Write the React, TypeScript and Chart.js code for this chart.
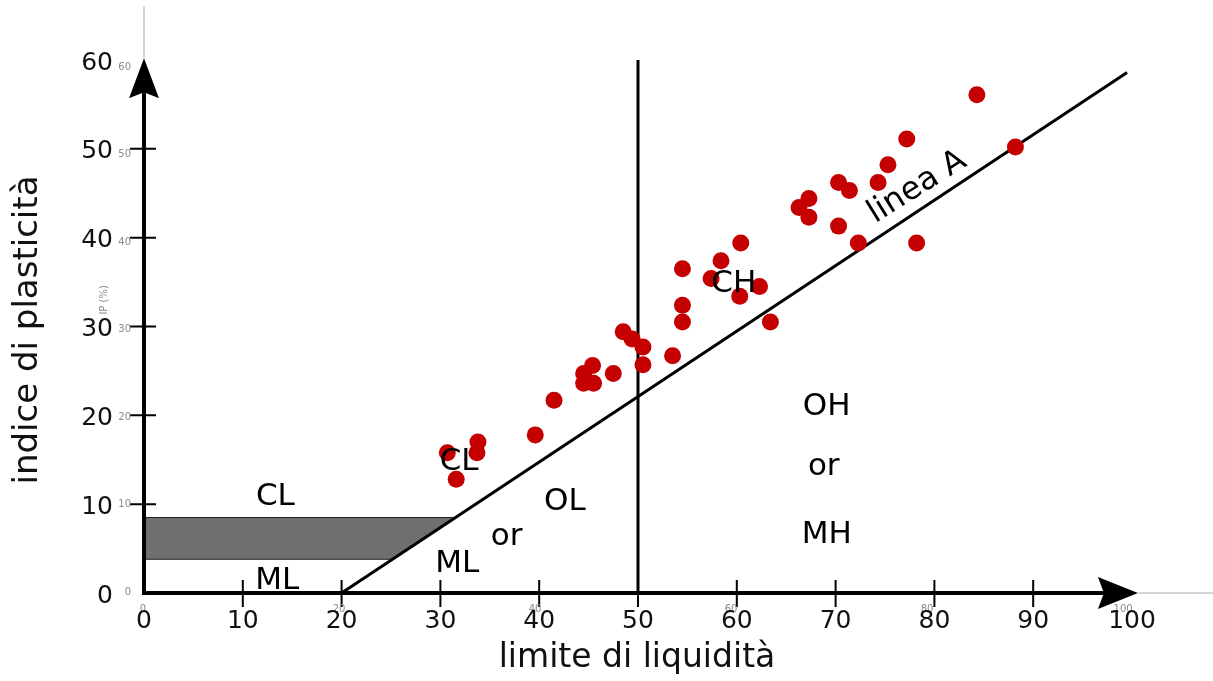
import React, { useEffect, useRef } from "react";
import { Chart, registerables } from "chart.js";

Chart.register(...registerables);

// ---- data ----
const liquidLimit = [30.7, 31.6, 33.7, 33.8, 39.6, 41.5, 44.5, 44.5, 45.4, 45.5, 47.5, 48.5, 49.4, 50.5, 50.5, 53.5, 54.5, 54.5, 54.5, 57.4, 58.4, 60.3, 60.4, 62.3, 63.4, 66.3, 67.3, 67.3, 70.3, 70.3, 71.4, 72.3, 74.3, 75.3, 77.2, 78.2, 84.3, 88.2];
const plasticityIndex = [15.8, 12.8, 15.8, 17.0, 17.8, 21.7, 24.7, 23.6, 25.6, 23.6, 24.7, 29.4, 28.6, 27.7, 25.7, 26.7, 30.5, 32.4, 36.5, 35.4, 37.4, 33.4, 39.4, 34.5, 30.5, 43.4, 44.4, 42.3, 46.2, 41.3, 45.3, 39.4, 46.2, 48.2, 51.1, 39.4, 56.1, 50.2];

const aLineLL = [20, 99.5];
const aLinePI = [0, 58.6];
const verticalLL = [50, 50];
const verticalPI = [0, 60];
const bandLL = [0, 31.6, 25.2, 0];
const bandPI = [8.5, 8.5, 3.8, 3.8];

const xTicks = [0, 10, 20, 30, 40, 50, 60, 70, 80, 90, 100];
const yTicks = [0, 10, 20, 30, 40, 50, 60];
const xTickMarks = [10, 20, 30, 40, 50, 60, 70, 80, 90];
const yTickMarks = [10, 20, 30, 40, 50];
const xGhostTicks = [0, 20, 40, 60, 80, 100];
const yGhostTicks = [0, 10, 20, 30, 40, 50, 60];

const regionText = ["CL", "ML", "CL", "ML", "OL", "or", "CH", "OH", "or", "MH"];
const regionLL = [13.3, 13.5, 31.9, 31.7, 42.6, 36.7, 59.7, 69.1, 68.8, 69.1];
const regionPI = [9.9, 0.45, 13.85, 2.36, 9.35, 5.4, 33.9, 20.05, 13.3, 5.63];

const aLineLabel = "linea A";
const aLineLabelLL = 78.7;
const aLineLabelPI = 44.9;

const xTitle = "limite di liquidità";
const yTitle = "indice di plasticità";
const yUnitText = "IP (%)";
const xAxisEnd = 100.6;
const yAxisEnd = 60.2;

const FONT = "'DejaVu Sans', 'Liberation Sans', sans-serif";

const decorPlugin = {
  id: "decor",
  afterDatasetsDraw(chart: any) {
    const { ctx, scales } = chart;
    const xs = scales.x;
    const ys = scales.y;
    const x0 = xs.getPixelForValue(0);
    const y0 = ys.getPixelForValue(0);
    const xEnd = xs.getPixelForValue(xAxisEnd);
    const yEnd = ys.getPixelForValue(yAxisEnd);
    ctx.save();

    // gray extensions
    ctx.strokeStyle = "#c8c8c8";
    ctx.lineWidth = 1.5;
    ctx.beginPath();
    ctx.moveTo(x0, 6);
    ctx.lineTo(x0, yEnd);
    ctx.moveTo(xEnd, y0);
    ctx.lineTo(chart.width, y0);
    ctx.stroke();

    // axes
    ctx.strokeStyle = "#000";
    ctx.lineWidth = 4;
    ctx.beginPath();
    ctx.moveTo(x0, y0 + 2);
    ctx.lineTo(x0, yEnd + 30);
    ctx.moveTo(x0 - 2, y0);
    ctx.lineTo(xEnd - 30, y0);
    ctx.stroke();

    // arrow heads
    ctx.fillStyle = "#000";
    ctx.beginPath();
    ctx.moveTo(x0, yEnd);
    ctx.lineTo(x0 - 15, yEnd + 40);
    ctx.lineTo(x0, yEnd + 34);
    ctx.lineTo(x0 + 15, yEnd + 40);
    ctx.closePath();
    ctx.fill();
    ctx.beginPath();
    ctx.moveTo(xEnd, y0);
    ctx.lineTo(xEnd - 40, y0 - 16);
    ctx.lineTo(xEnd - 34, y0);
    ctx.lineTo(xEnd - 40, y0 + 16);
    ctx.closePath();
    ctx.fill();

    // tick marks
    ctx.lineWidth = 2;
    ctx.beginPath();
    for (const v of yTickMarks) {
      const py = ys.getPixelForValue(v);
      ctx.moveTo(x0 - 14, py);
      ctx.lineTo(x0 + 12, py);
    }
    for (const v of xTickMarks) {
      const px = xs.getPixelForValue(v);
      ctx.moveTo(px, y0 - 13);
      ctx.lineTo(px, y0 + 14);
    }
    ctx.stroke();

    // ghost small labels
    ctx.fillStyle = "#8a8a8a";
    ctx.font = `10px ${FONT}`;
    ctx.textBaseline = "middle";
    ctx.textAlign = "right";
    for (const v of yGhostTicks) {
      ctx.fillText(String(v), x0 - 13, ys.getPixelForValue(v * 0.985) - 1);
    }
    ctx.textAlign = "center";
    for (const v of xGhostTicks) {
      ctx.fillText(String(v), xs.getPixelForValue(v * 0.992) - 1, y0 + 16);
    }
    ctx.save();
    ctx.translate(x0 - 40, ys.getPixelForValue(33));
    ctx.rotate(-Math.PI / 2);
    ctx.fillText(yUnitText, 0, 0);
    ctx.restore();

    // tick labels
    ctx.fillStyle = "#111";
    ctx.font = `25px ${FONT}`;
    ctx.textBaseline = "alphabetic";
    ctx.textAlign = "right";
    for (const v of yTicks) {
      ctx.fillText(String(v), x0 - 31, ys.getPixelForValue(v) + 9.5);
    }
    ctx.textAlign = "center";
    for (const v of xTicks) {
      ctx.fillText(String(v), xs.getPixelForValue(v), y0 + 35);
    }

    // axis titles
    ctx.font = `33px ${FONT}`;
    ctx.fillText(xTitle, (xs.getPixelForValue(0) + xs.getPixelForValue(100)) / 2 - 1, 667);
    ctx.save();
    ctx.translate(37, 330);
    ctx.rotate(-Math.PI / 2);
    ctx.font = `34px ${FONT}`;
    ctx.fillText(yTitle, 0, 0);
    ctx.restore();

    // region labels
    ctx.font = `31px ${FONT}`;
    ctx.fillStyle = "#000";
    regionText.forEach((t, i) => {
      ctx.fillText(t, xs.getPixelForValue(regionLL[i]), ys.getPixelForValue(regionPI[i]));
    });

    // linea A label
    ctx.save();
    ctx.translate(xs.getPixelForValue(aLineLabelLL), ys.getPixelForValue(aLineLabelPI));
    ctx.rotate(-32 * Math.PI / 180);
    ctx.font = `32px ${FONT}`;
    ctx.fillText(aLineLabel, 0, 0);
    ctx.restore();

    ctx.restore();
  },
};

export default function App() {
  const ref = useRef<HTMLCanvasElement | null>(null);
  useEffect(() => {
    if (!ref.current) return;
    const zip = (xsArr: number[], ysArr: number[]) => xsArr.map((x, i) => ({ x, y: ysArr[i] }));
    const chart = new Chart(ref.current, {
      type: "scatter",
      data: {
        datasets: [
          {
            label: "campioni",
            data: zip(liquidLimit, plasticityIndex),
            backgroundColor: "#c40000",
            borderColor: "#c40000",
            pointRadius: 8.5,
            pointBorderWidth: 0,
            order: 0,
          } as any,
          {
            label: "linea A",
            data: zip(aLineLL, aLinePI),
            showLine: true,
            borderColor: "#000",
            borderWidth: 3,
            pointRadius: 0,
            fill: false,
            order: 1,
          },
          {
            label: "LL 50",
            data: zip(verticalLL, verticalPI),
            showLine: true,
            borderColor: "#000",
            borderWidth: 3,
            pointRadius: 0,
            fill: false,
            order: 1,
          },
          {
            label: "CL-ML",
            data: zip(bandLL, bandPI),
            showLine: true,
            borderColor: "#222",
            borderWidth: 1.2,
            backgroundColor: "#6f6f6f",
            pointRadius: 0,
            fill: "shape",
            order: 2,
          } as any,
        ],
      },
      options: {
        responsive: false,
        animation: false,
        devicePixelRatio: 1,
        layout: { padding: { left: 144, right: 81, top: 60, bottom: 88 } },
        plugins: { legend: { display: false }, tooltip: { enabled: false } },
        elements: { line: { tension: 0 } },
        scales: {
          x: { type: "linear", min: 0, max: 100, display: false },
          y: { type: "linear", min: 0, max: 60, display: false },
        },
        datasets: { scatter: { clip: false } } as any,
      },
      plugins: [decorPlugin],
    });
    return () => chart.destroy();
  }, []);
  return (
    <div style={{ position: "fixed", left: 0, top: 0, width: 1213, height: 681, background: "#fff" }}>
      <canvas ref={ref} width={1213} height={681} style={{ display: "block" }} />
    </div>
  );
}
